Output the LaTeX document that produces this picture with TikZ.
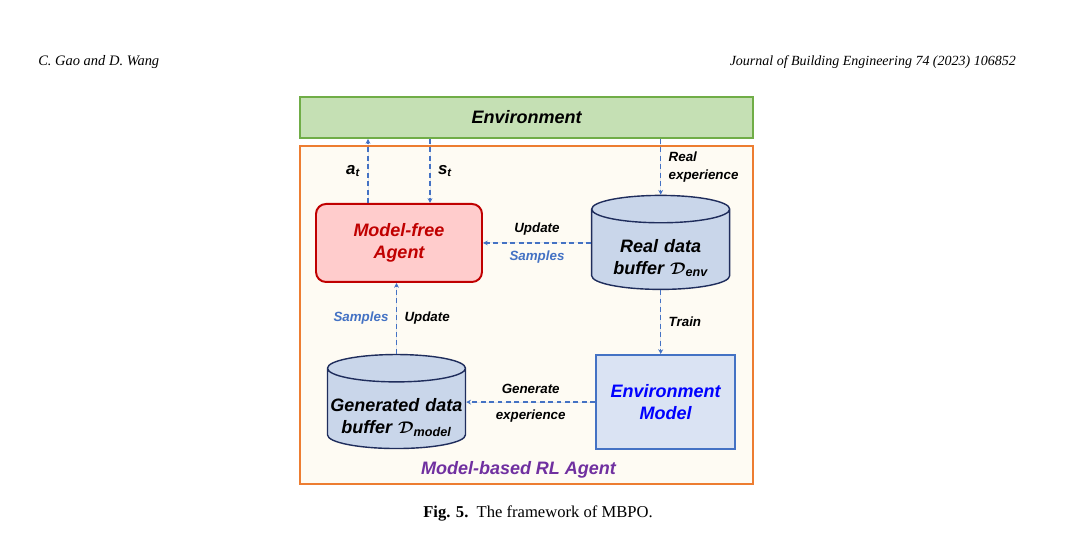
\documentclass[tikz,border=0pt]{standalone}
\usepackage{fontspec}
\setmainfont{Liberation Sans}
\newfontfamily\headfont{Liberation Serif}
\usepackage{bm}
\usetikzlibrary{shapes.geometric, arrows.meta, positioning}
\definecolor{envfill}{HTML}{C5E0B4}
\definecolor{envline}{HTML}{70AD47}
\definecolor{rlline}{HTML}{ED7D31}
\definecolor{rlfill}{HTML}{FEFBF3}
\definecolor{agentfill}{HTML}{FFCCCC}
\definecolor{agentline}{HTML}{C00000}
\definecolor{buffill}{HTML}{C9D6EA}
\definecolor{bufline}{HTML}{1F2D5C}
\definecolor{modelfill}{HTML}{DAE3F3}
\definecolor{modelline}{HTML}{4472C4}
\definecolor{flowblue}{HTML}{4472C4}
\definecolor{rlpurple}{HTML}{7030A0}
\tikzstyle{envbox} = [rectangle, draw=envline, fill=envfill, line width=1.4pt, minimum width=11.325cm, minimum height=1.025cm, font=\bfseries\itshape\fontsize{12.8}{15.6}\selectfont]
\tikzstyle{rlbox} = [rectangle, draw=rlline, fill=rlfill, line width=1.4pt, minimum width=11.325cm, minimum height=8.45cm]
\tikzstyle{agentbox} = [rectangle, draw=agentline, fill=agentfill, text=agentline, rounded corners=0.25cm, line width=1.4pt, minimum width=4.15cm, minimum height=1.95cm, align=center, font=\bfseries\itshape\fontsize{12.8}{15.6}\selectfont]
\tikzstyle{buffer} = [cylinder, shape border rotate=90, aspect=0.2, draw=bufline, fill=buffill, line width=1pt, text width=3.35cm, inner xsep=1pt, inner ysep=0pt, minimum width=3.45cm, minimum height=2.35cm, align=center, execute at begin node={\rule{0pt}{19.5pt}}, font=\bfseries\itshape\fontsize{12.8}{15.6}\selectfont]
\tikzstyle{modelbox} = [rectangle, draw=modelline, fill=modelfill, text=blue, line width=1.4pt, minimum width=3.475cm, minimum height=2.35cm, align=center, font=\bfseries\itshape\fontsize{12.8}{15.6}\selectfont]
\tikzstyle{arrow} = [-{Stealth[length=1.2mm, width=1.2mm]}, dash pattern=on 3.5pt off 2.5pt, draw=flowblue, fill=flowblue, line width=0.9pt]
\tikzstyle{lbl} = [align=left, inner sep=1pt, font=\bfseries\itshape\fontsize{9.5}{12.8}\selectfont]
\tikzstyle{sublbl} = [inner sep=1pt, font=\bfseries\itshape\fontsize{12}{14}\selectfont]

\begin{document}
\begin{tikzpicture}
\useasboundingbox (0,0) rectangle (27.15,-13.6);

% page header and caption
\node[anchor=west, inner sep=0pt, font=\headfont\itshape\fontsize{10.3}{12}\selectfont] (author) at (0.95,-1.55) {C. Gao and D. Wang};
\node[anchor=east, inner sep=0pt, font=\headfont\itshape\fontsize{9.95}{12}\selectfont] (journal) at (25.4,-1.55) {Journal of Building Engineering 74 (2023) 106852};
\node[font=\headfont\fontsize{11.8}{14}\selectfont] (caption) at (13.45,-12.825) {\textbf{Fig. 5.}\ \ The framework of MBPO.};

% environment and agent frame
\node[envbox] (env) at (13.1625,-2.9375) {Environment};
\node[rlbox, below=0.15cm of env] (rl) {};
\node[text=rlpurple, font=\bfseries\itshape\fontsize{12.8}{15.6}\selectfont] (rltitle) at ([xshift=-0.2cm, yshift=0.375cm]rl.south) {Model-based RL Agent};

% inner blocks
\node[agentbox, below right=1.45cm and 0.4cm of rl.north west] (agent) {Model-free\\Agent};
\node[buffer, right=2.7cm of agent, yshift=-0.2cm] (realbuf) {Real data\\buffer $\bm{\mathcal{D}}$\textsubscript{env}};
\node[modelbox, below=1.6cm of realbuf, xshift=0.125cm] (envmodel) {Environment\\Model};
\node[buffer, left=3.225cm of envmodel, yshift=-0.2cm] (genbuf) {Generated data\\buffer $\bm{\mathcal{D}}$\textsubscript{model}};

% interaction with the environment
\draw[arrow] ([xshift=-0.775cm]agent.north) -- node[sublbl, left=0.15cm] {a\textsubscript{t}} ([xshift=-0.775cm]agent.north |- env.south);
\draw[arrow] ([xshift=0.775cm]agent.north |- env.south) -- node[sublbl, right=0.15cm] {s\textsubscript{t}} ([xshift=0.775cm]agent.north);
\draw[arrow] (realbuf.north |- env.south) -- node[lbl, right=0.15cm] {Real\\experience} (realbuf.north);

% data flow inside the agent
\draw[arrow] (agent.east -| realbuf.west) -- node[lbl, above=0.15cm] {Update} node[lbl, below=0.15cm, text=flowblue] {Samples} (agent.east);
\draw[arrow] (realbuf.south) -- node[lbl, right=0.15cm] {Train} (realbuf.south |- envmodel.north);
\draw[arrow] (envmodel.west) -- node[lbl, above=0.15cm] {Generate} node[lbl, below=0.15cm] {experience} (envmodel.west -| genbuf.east);
\draw[arrow] (genbuf.north) -- node[lbl, left=0.15cm, text=flowblue] {Samples} node[lbl, right=0.15cm] {Update} (genbuf.north |- agent.south);

\end{tikzpicture}
\end{document}
